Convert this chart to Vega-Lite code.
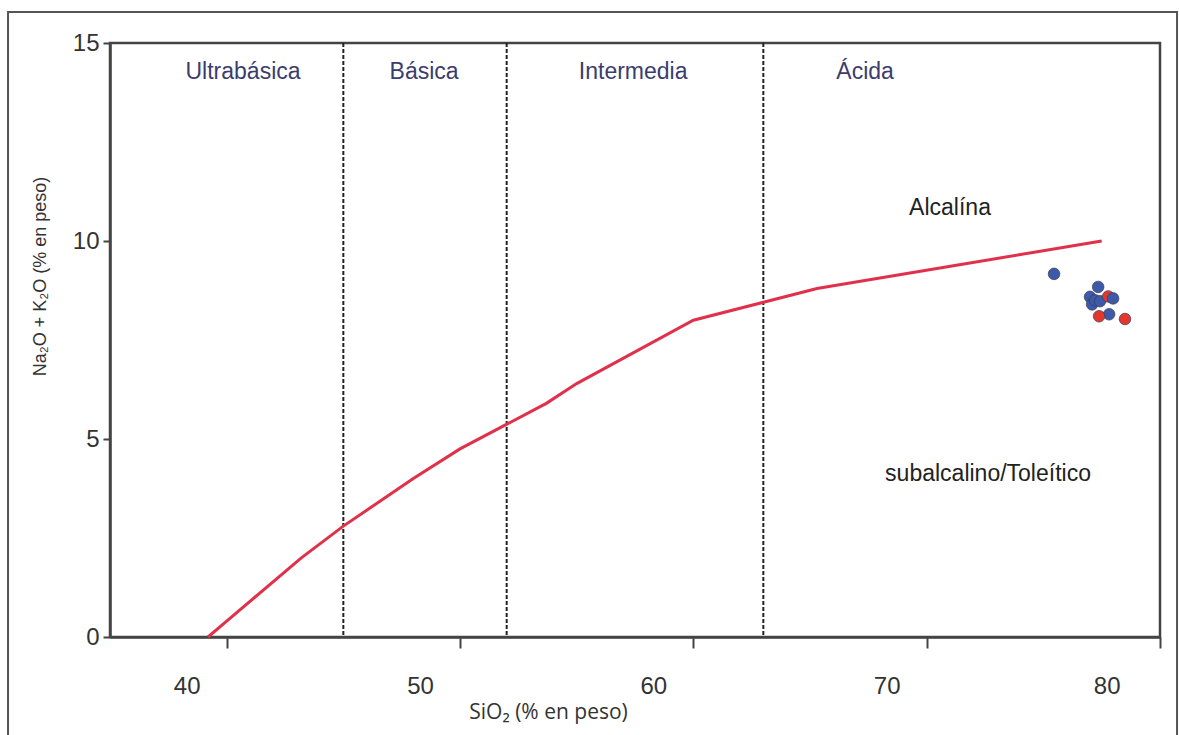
{
  "$schema": "https://vega.github.io/schema/vega-lite/v6.json",
  "width": 1050,
  "height": 594,
  "autosize": {"type": "none"},
  "padding": {"left": 110, "top": 43, "right": 19, "bottom": 98},
  "background": "white",
  "config": {
    "view": {"stroke": "#444", "strokeWidth": 2.5},
    "axis": {
      "grid": false,
      "domainColor": "#444",
      "domainWidth": 2.5,
      "tickColor": "#444",
      "tickWidth": 2,
      "labelFont": "Liberation Sans",
      "labelFontSize": 24,
      "labelColor": "#333",
      "titleColor": "#333",
      "titleFontWeight": "normal"
    }
  },
  "datasets": {
    "frame": [{"x1": 30.63, "x2": 80.73, "y1": 15.78, "y2": -3}],
    "curve": [
      {"sio2": 39.2, "alk": 0.0, "o": 1},
      {"sio2": 40.0, "alk": 0.4, "o": 2},
      {"sio2": 43.2, "alk": 2.0, "o": 3},
      {"sio2": 45.0, "alk": 2.8, "o": 4},
      {"sio2": 48.0, "alk": 4.0, "o": 5},
      {"sio2": 50.0, "alk": 4.75, "o": 6},
      {"sio2": 53.7, "alk": 5.9, "o": 7},
      {"sio2": 55.0, "alk": 6.4, "o": 8},
      {"sio2": 60.0, "alk": 8.0, "o": 9},
      {"sio2": 65.3, "alk": 8.8, "o": 10},
      {"sio2": 77.5, "alk": 10.0, "o": 11}
    ],
    "bounds": [{"sio2": 45}, {"sio2": 52}, {"sio2": 63}],
    "zones": [
      {"label": "Ultrabásica", "sio2": 40.7, "alk": 14.27},
      {"label": "Básica", "sio2": 48.46, "alk": 14.27},
      {"label": "Intermedia", "sio2": 57.42, "alk": 14.27},
      {"label": "Ácida", "sio2": 67.36, "alk": 14.27}
    ],
    "series": [
      {"label": "Alcalína", "sio2": 71.0, "alk": 10.83},
      {"label": "subalcalino/Toleítico", "sio2": 72.63, "alk": 4.12}
    ],
    "pts": [
      {"sio2": 75.46, "alk": 9.17, "grupo": "A"},
      {"sio2": 77.35, "alk": 8.84, "grupo": "A"},
      {"sio2": 77.0, "alk": 8.59, "grupo": "A"},
      {"sio2": 77.09, "alk": 8.40, "grupo": "A"},
      {"sio2": 77.22, "alk": 8.50, "grupo": "A"},
      {"sio2": 77.43, "alk": 8.48, "grupo": "A"},
      {"sio2": 77.78, "alk": 8.60, "grupo": "B"},
      {"sio2": 77.99, "alk": 8.55, "grupo": "A"},
      {"sio2": 77.82, "alk": 8.15, "grupo": "A"},
      {"sio2": 77.39, "alk": 8.10, "grupo": "B"},
      {"sio2": 78.5, "alk": 8.03, "grupo": "B"}
    ]
  },
  "layer": [
    {
      "data": {"name": "frame"},
      "mark": {"type": "rect", "fill": "transparent", "stroke": "#555", "strokeWidth": 2, "clip": false},
      "encoding": {
        "x": {"field": "x1", "type": "quantitative"},
        "x2": {"field": "x2"},
        "y": {"field": "y1", "type": "quantitative"},
        "y2": {"field": "y2"}
      }
    },
    {
      "data": {"name": "bounds"},
      "mark": {"type": "rule", "color": "#222", "strokeWidth": 2, "strokeDash": [4, 2]},
      "encoding": {
        "x": {"field": "sio2", "type": "quantitative"}
      }
    },
    {
      "data": {"name": "curve"},
      "mark": {"type": "line", "color": "#e0304a", "strokeWidth": 3},
      "encoding": {
        "x": {
          "field": "sio2", "type": "quantitative",
          "scale": {"domain": [35, 80], "nice": false, "zero": false},
          "axis": {
            "values": [40, 50, 60, 70, 80],
            "tickSize": 11,
            "labelOffset": -40,
            "labelPadding": 26,
            "title": "SiO₂ (% en peso)",
            "titleFont": "Open Sans",
            "titleFontSize": 21,
            "titleX": 438,
            "titleY": 75,
            "titleBaseline": "middle",
            "titleAlign": "center"
          }
        },
        "y": {
          "field": "alk", "type": "quantitative",
          "scale": {"domain": [0, 15], "nice": false},
          "axis": {
            "values": [0, 5, 10, 15],
            "tickSize": 7,
            "labelPadding": 4,
            "title": "Na₂O + K₂O (% en peso)",
            "titleFont": "Liberation Sans",
            "titleFontSize": 18,
            "titleX": -70,
            "titleY": 233,
            "titleAngle": 270,
            "titleAlign": "center",
            "titleBaseline": "middle"
          }
        },
        "order": {"field": "o", "type": "quantitative"}
      }
    },
    {
      "data": {"name": "zones"},
      "mark": {"type": "text", "font": "Liberation Sans", "fontSize": 23, "color": "#3c3c6e"},
      "encoding": {
        "x": {"field": "sio2", "type": "quantitative"},
        "y": {"field": "alk", "type": "quantitative"},
        "text": {"field": "label"}
      }
    },
    {
      "data": {"name": "series"},
      "mark": {"type": "text", "font": "Liberation Sans", "fontSize": 23, "color": "#222"},
      "encoding": {
        "x": {"field": "sio2", "type": "quantitative"},
        "y": {"field": "alk", "type": "quantitative"},
        "text": {"field": "label"}
      }
    },
    {
      "data": {"name": "pts"},
      "mark": {"type": "point", "shape": "circle", "filled": true, "size": 135, "opacity": 1, "stroke": "#3a3a55", "strokeWidth": 1, "strokeOpacity": 0.7},
      "encoding": {
        "x": {"field": "sio2", "type": "quantitative"},
        "y": {"field": "alk", "type": "quantitative"},
        "color": {
          "field": "grupo", "type": "nominal",
          "scale": {"domain": ["A", "B"], "range": ["#3d5aa8", "#e2362e"]},
          "legend": null
        }
      }
    }
  ]
}
